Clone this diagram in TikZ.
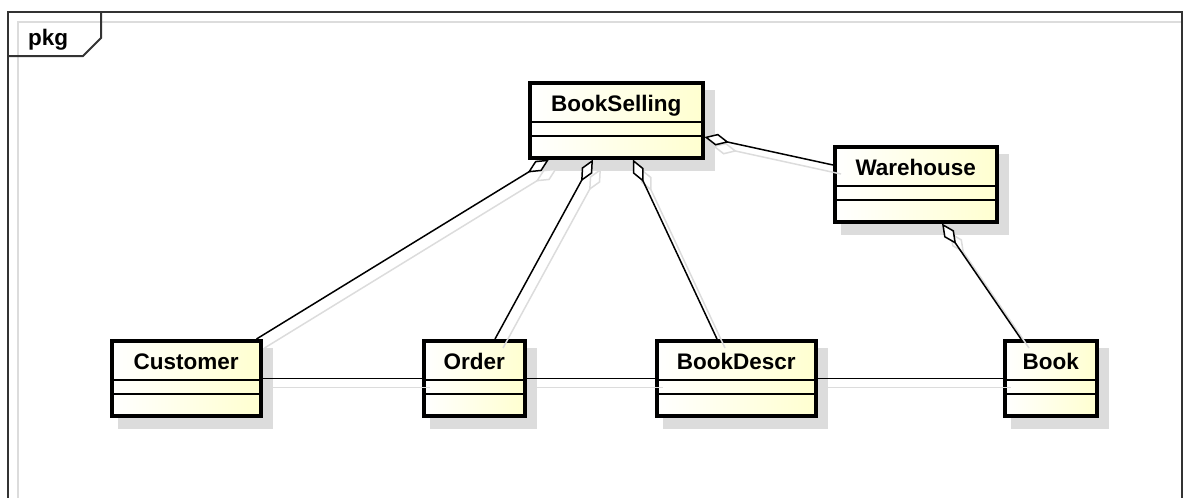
\documentclass[tikz,border=0pt]{standalone}
\usepackage{fontspec}
\setmainfont{Liberation Sans}
\usetikzlibrary{arrows.meta,calc,backgrounds}

\definecolor{clsfill}{RGB}{255,255,208}
\definecolor{shadowgray}{RGB}{220,220,220}
\definecolor{frameline}{RGB}{51,51,51}

\begin{document}
\begin{tikzpicture}[x=1pt, y=-1pt,
	cls/.style={draw, line width=3.5pt, left color=white, right color=clsfill,
		anchor=north west, inner sep=0pt, minimum height=75pt,
		text height=29pt, text depth=46pt,
		font=\bfseries\fontsize{22.5}{24}\selectfont},
	conn/.style={line width=1.5pt},
	agg/.style={conn, {Diamond[fill=white, length=25pt, width=12pt]}-},
	connshadow/.style={draw=shadowgray}
]
\useasboundingbox (0,0) rectangle (1184,498);
\clip (0,0) rectangle (1184,498);

% package frame with its tab
\draw[shadowgray, line width=1.5pt] (18,510) -- (18,22) -- (1182,22);
\draw[frameline, line width=2pt] (8,510) -- (8,12) -- (1182,12) -- (1182,510);
\draw[frameline, line width=2pt] (8,56) -- (83,56) -- (101,38) -- (101,12);
\node[font=\bfseries\fontsize{22.5}{24}\selectfont, anchor=base west, inner sep=0pt]
	(pkg) at (28,45) {pkg};

% classes
\node[cls, minimum width=173pt] (sell)  at (528,81)   {BookSelling};
\node[cls, minimum width=162pt] (ware)  at (833,145)  {Warehouse};
\node[cls, minimum width=149pt] (cust)  at (110,339)  {Customer};
\node[cls, minimum width=101pt] (order) at (422,339)  {Order};
\node[cls, minimum width=159pt] (descr) at (655,339)  {BookDescr};
\node[cls, minimum width=92pt]  (book)  at (1003,339) {Book};

\foreach \n in {sell,ware,cust,order,descr,book} {
	\draw[line width=1.5pt] ($(\n.north west)+(0,41)$) -- ($(\n.north east)+(0,41)$);
	\draw[line width=1.5pt] ($(\n.north west)+(0,55)$) -- ($(\n.north east)+(0,55)$);
}
\begin{scope}[on background layer]
	\foreach \n in {sell,ware,cust,order,descr,book}
		\fill[shadowgray] ([shift={(8,9)}]\n.north west) rectangle ([shift={(10,11)}]\n.south east);
\end{scope}

% ends of the aggregations
\coordinate (sell-cust)  at ($(sell.south west)+(21,0)$);
\coordinate (sell-order) at ($(sell.south west)+(65,0)$);
\coordinate (sell-descr) at ($(sell.south west)+(105,0)$);
\coordinate (sell-ware)  at ($(sell.north east)+(0,56)$);
\coordinate (ware-book)  at ($(ware.south west)+(109,0)$);
\coordinate (cust-sell)  at ($(cust.north east)+(-6,0)$);
\coordinate (order-sell) at ($(order.north west)+(73,0)$);
\coordinate (descr-sell) at ($(descr.north west)+(62,0)$);
\coordinate (ware-sell)  at ($(ware.north west)+(0,20)$);
\coordinate (book-ware)  at ($(book.north west)+(18,0)$);

% shadows of the connectors
\foreach \whole/\part in {sell-cust/cust-sell, sell-order/order-sell,
		sell-descr/descr-sell, sell-ware/ware-sell, ware-book/book-ware}
	\draw[agg, connshadow] ([shift={(8,9)}]\whole) -- ([shift={(8,9)}]\part);
\foreach \a/\b in {cust/order, order/descr, descr/book}
	\draw[conn, connshadow] ([shift={(8,9)}]\a.east) -- ([shift={(8,9)}]\b.west);

% connectors
\foreach \whole/\part in {sell-cust/cust-sell, sell-order/order-sell,
		sell-descr/descr-sell, sell-ware/ware-sell, ware-book/book-ware}
	\draw[agg] (\whole) -- (\part);
\foreach \a/\b in {cust/order, order/descr, descr/book}
	\draw[conn] (\a.east) -- (\b.west);
\end{tikzpicture}
\end{document}
